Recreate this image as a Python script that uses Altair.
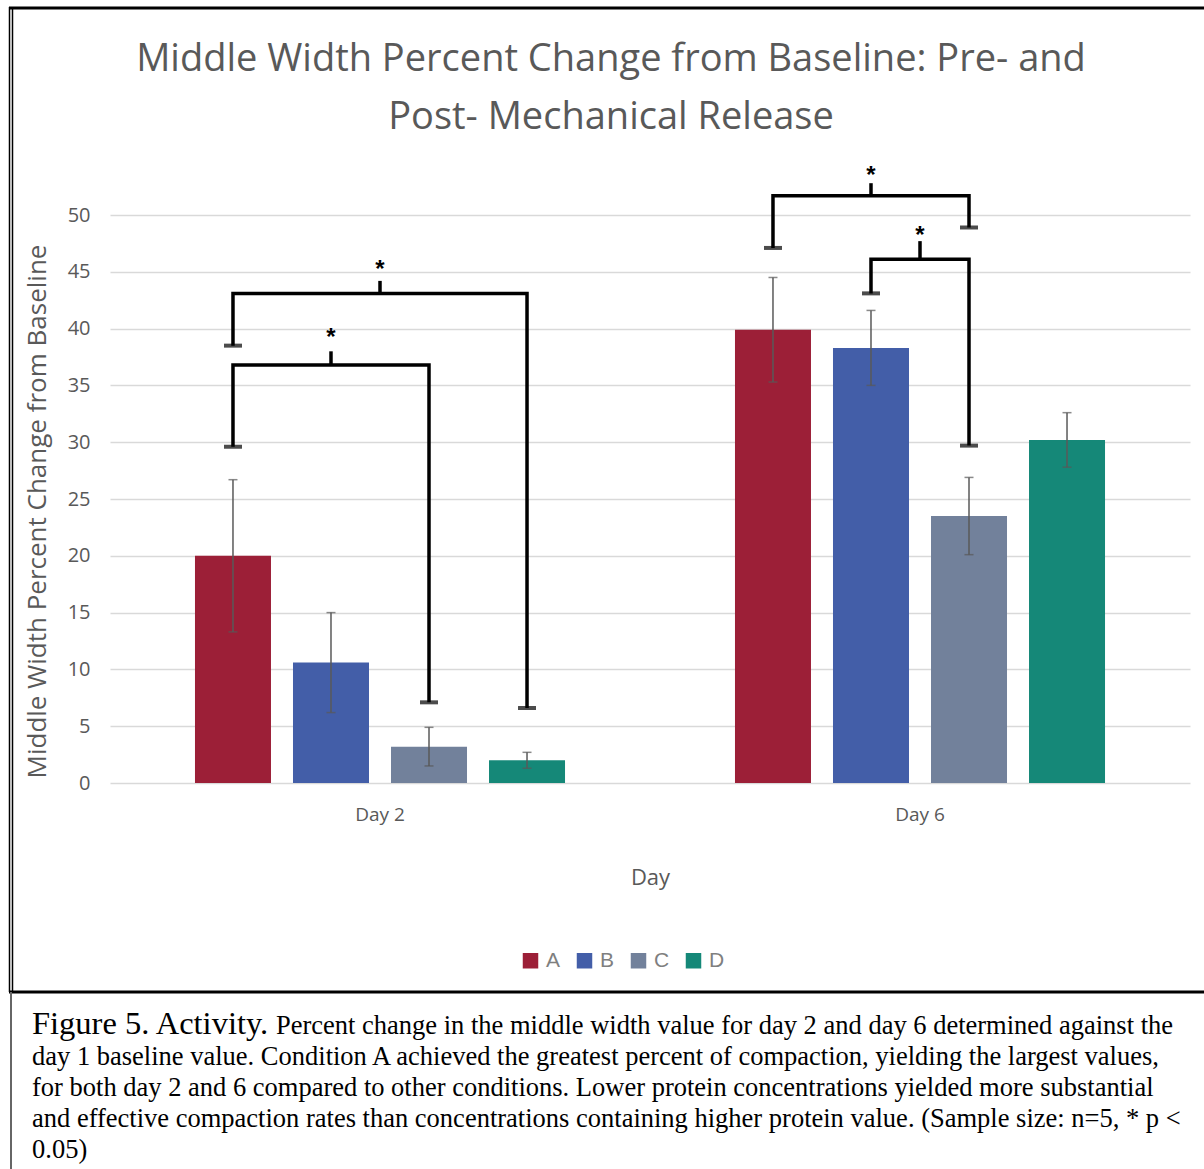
import altair as alt
import pandas as pd

# ---- data -------------------------------------------------------------
days = ["Day 2", "Day 6"]
conditions = ["A", "B", "C", "D"]
colors = ["#9C1F37", "#435EA8", "#72819B", "#158878"]

mean_day2 = [20.0, 10.6, 3.2, 2.0]
mean_day6 = [39.9, 38.3, 23.5, 30.2]
err_day2 = [6.7, 4.4, 1.7, 0.7]
err_day6 = [4.6, 3.3, 3.4, 2.4]

y_ticks = [0, 5, 10, 15, 20, 25, 30, 35, 40, 45, 50]

# significance brackets (* p < 0.05)
br_day = ["Day 2", "Day 2", "Day 6", "Day 6"]
br_left = ["A", "A", "A", "B"]
br_right = ["D", "C", "C", "C"]
br_left_end = [38.5, 29.6, 47.1, 43.1]
br_right_end = [6.6, 7.1, 48.9, 29.7]
br_level = [43.1, 36.8, 51.7, 46.1]
br_tick_top = [44.2, 38.0, 52.8, 47.7]
br_star = [45.6, 39.6, 53.9, 48.6]
br_mid = ["center", "B", "B", "center"]

title_lines = ["Middle Width Percent Change from Baseline: Pre- and",
               "Post- Mechanical Release"]
y_title = "Middle Width Percent Change from Baseline"
x_title = "Day"

caption_head = "Figure 5. Activity."
caption_lines = [
    "Percent change in the middle width value for day 2 and day 6 determined against the",
    "day 1 baseline value. Condition A achieved the greatest percent of compaction, yielding the largest values,",
    "for both day 2 and 6 compared to other conditions. Lower protein concentrations yielded more substantial",
    "and effective compaction rates than concentrations containing higher protein value. (Sample size: n=5, * p <",
    "0.05)",
]

# ---- tables -----------------------------------------------------------
rows = []
for d, means, errs in [(days[0], mean_day2, err_day2), (days[1], mean_day6, err_day6)]:
    for c, m, e in zip(conditions, means, errs):
        rows.append({"day": d, "cond": c, "value": m, "lo": m - e, "hi": m + e})
bars = pd.DataFrame(rows)
err_ends = pd.concat([
    bars[["day", "cond", "lo"]].rename(columns={"lo": "end"}),
    bars[["day", "cond", "hi"]].rename(columns={"hi": "end"}),
])

path_rows, cap_rows, mid_rows = [], [], []
for i in range(len(br_day)):
    pts = [(br_left[i], br_left_end[i]), (br_left[i], br_level[i]),
           (br_right[i], br_level[i]), (br_right[i], br_right_end[i])]
    for s, (c, v) in enumerate(pts):
        path_rows.append({"bracket": i, "seq": s, "day": br_day[i], "cond": c, "val": v})
    cap_rows.append({"day": br_day[i], "cond": br_left[i], "val": br_left_end[i]})
    cap_rows.append({"day": br_day[i], "cond": br_right[i], "val": br_right_end[i]})
    mid_rows.append({"day": br_day[i], "cond": br_mid[i], "val": br_level[i],
                     "top": br_tick_top[i], "star": br_star[i], "mark": "*"})
paths = pd.DataFrame(path_rows)
caps = pd.DataFrame(cap_rows)
mids = pd.DataFrame(mid_rows)
mids_off = mids[mids["cond"] != "center"]
mids_ctr = mids[mids["cond"] == "center"]

# ---- shared encodings ---------------------------------------------------
GREY = "#595959"
FONT = "Open Sans"

x_enc = alt.X("day:N", scale=alt.Scale(domain=days, paddingInner=0.274, paddingOuter=0.137),
              axis=alt.Axis(title=x_title, labelAngle=0, labelFontSize=19, labelColor=GREY,
                            labelFont=FONT, labelPadding=22, ticks=False, domain=False,
                            titleFontSize=22, titleColor=GREY, titleFont=FONT,
                            titleFontWeight="normal", titleY=84, titleBaseline="top"))
xo_enc = alt.XOffset("cond:N", scale=alt.Scale(domain=conditions, paddingInner=0.2245,
                                                paddingOuter=0.1122))


def y_enc(field):
    return alt.Y(f"{field}:Q", scale=alt.Scale(domain=[0, 50], nice=False),
                 axis=alt.Axis(values=y_ticks, title=y_title, labelFontSize=20, labelColor=GREY,
                               labelFont=FONT, labelPadding=20, ticks=False, tickSize=0,
                               domain=False, grid=True, gridColor="#D9D9D9", gridWidth=1.5,
                               titleFontSize=26, titleColor=GREY, titleFont=FONT,
                               titleFontWeight="normal", titleX=-73, titleY=296,
                               titleBaseline="middle", titleAngle=-90))


bar_layer = alt.Chart(bars).mark_bar().encode(
    x=x_enc, xOffset=xo_enc, y=y_enc("value"),
    color=alt.Color("cond:N", scale=alt.Scale(domain=conditions, range=colors),
                    legend=alt.Legend(title=None, orient="none", legendX=410, legendY=735,
                                      direction="horizontal", symbolType="square",
                                      symbolSize=240, symbolStrokeWidth=0,
                                      labelFontSize=21, labelFont="Liberation Sans",
                                      labelColor="#7F7F7F", labelOffset=5,
                                      columnPadding=13, padding=0)),
)

err_rule = alt.Chart(bars).mark_rule(color=GREY, strokeWidth=1.5).encode(
    x=x_enc, xOffset=xo_enc, y=y_enc("lo"), y2="hi:Q")
err_caps = alt.Chart(err_ends).mark_tick(color=GREY, orient="horizontal", size=9,
                                        thickness=1.5).encode(
    x=x_enc, xOffset=xo_enc, y=y_enc("end"))

br_lines = alt.Chart(paths).mark_line(color="black", strokeWidth=3.5, strokeJoin="miter").encode(
    x=x_enc, xOffset=xo_enc, y=y_enc("val"), detail="bracket:N", order="seq:Q")
br_caps = alt.Chart(caps).mark_tick(color="black", orient="horizontal", size=18,
                                    thickness=4).encode(
    x=x_enc, xOffset=xo_enc, y=y_enc("val"))
mid_tick_off = alt.Chart(mids_off).mark_rule(color="black", strokeWidth=3.5).encode(
    x=x_enc, xOffset=xo_enc, y=y_enc("val"), y2="top:Q")
mid_tick_ctr = alt.Chart(mids_ctr).mark_rule(color="black", strokeWidth=3.5).encode(
    x=x_enc, y=y_enc("val"), y2="top:Q")
star_off = alt.Chart(mids_off).mark_text(fontSize=24, fontWeight="bold", font="Liberation Sans",
                                         baseline="middle", dy=5, color="black").encode(
    x=x_enc, xOffset=xo_enc, y=y_enc("star"), text="mark:N")
star_ctr = alt.Chart(mids_ctr).mark_text(fontSize=24, fontWeight="bold", font="Liberation Sans",
                                         baseline="middle", dy=5, color="black").encode(
    x=x_enc, y=y_enc("star"), text="mark:N")

# ---- title, caption and frame (pixel positions relative to plot origin) --
one = pd.DataFrame({"k": [0]})


def text_layer(txt, x, y, size, font, color, align="left"):
    return alt.Chart(pd.DataFrame({"t": [txt]})).mark_text(
        fontSize=size, font=font, color=color, align=align, baseline="alphabetic"
    ).encode(text="t:N", x=alt.value(x), y=alt.value(y))


def frame_rule(x, x2, y, y2, width, color="black"):
    return alt.Chart(one).mark_rule(color=color, strokeWidth=width).encode(
        x=alt.value(x), x2=alt.value(x2), y=alt.value(y), y2=alt.value(y2))


title_layers = [text_layer(t, 501, -144 + 58 * i, 38, FONT, GREY, "center")
                for i, t in enumerate(title_lines)]

SERIF = "Liberation Serif"
caption_layers = [text_layer(caption_head, -78, 819, 32.5, SERIF, "black")]
caption_layers.append(text_layer(caption_lines[0], 166, 819, 26.5, SERIF, "black"))
for i, line in enumerate(caption_lines[1:], start=1):
    caption_layers.append(text_layer(line, -78, 819 + 31 * i, 26.5, SERIF, "black"))

frame_layers = [
    frame_rule(-101, 1094, -207, -207, 3),
    frame_rule(-100.5, -100.5, -208, 777, 1.5),
    frame_rule(-97.5, -97.5, -208, 777, 1.5),
    frame_rule(-101, 1094, 777, 777, 3),
    frame_rule(-99, -99, 777, 954, 2, "#666666"),
]

chart = alt.layer(
    bar_layer, err_rule, err_caps, br_lines, br_caps, mid_tick_off, mid_tick_ctr,
    star_off, star_ctr, *title_layers, *caption_layers, *frame_layers
).properties(
    width=1080, height=568,
    background="white",
    autosize=alt.AutoSizeParams(type="none"),
    padding={"left": 110, "top": 215, "right": 14, "bottom": 386},
).configure_view(stroke=None)

chart.save("out.html", embed_options={"renderer": "svg", "actions": False})
